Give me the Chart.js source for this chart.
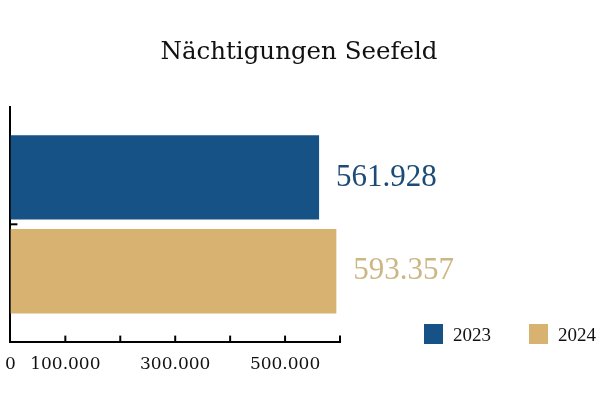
<!DOCTYPE html>
<html>
<head>
<meta charset="utf-8">
<script src="https://cdn.jsdelivr.net/npm/chart.js@4"></script>
<style>
  html, body { margin: 0; padding: 0; background: #fff; }
  #wrap { width: 609px; height: 406px; }
</style>
</head>
<body>
<div id="wrap"><canvas id="nights"></canvas></div>
<script>
const chartTitle = 'Nächtigungen Seefeld';
const categories = ['Nächtigungen'];
const years = ['2023', '2024'];
const nights = [561928, 593357];
const barColors = ['rgb(22, 82, 134)', 'rgb(216, 178, 112)'];
const labelColors = ['rgb(28, 76, 118)', 'rgb(204, 182, 132)'];
const shownTicks = [0, 100000, 300000, 500000];

const fmt = (v) => String(v).replace(/\B(?=(\d{3})+(?!\d))/g, '.');

// title over whole canvas, values next to bars, tick marks inside axes, legend
const extras = {
    id: 'extras',
    afterDraw(chart) {
        const ctx = chart.ctx;
        ctx.save();
        ctx.fillStyle = '#111';
        ctx.font = '24.5px "DejaVu Serif"';
        ctx.textAlign = 'center';
        ctx.textBaseline = 'middle';
        ctx.fillText(chartTitle, 299, 53);
        ctx.textAlign = 'left';

        ctx.font = '31px "Liberation Serif"';
        chart.data.datasets.forEach((ds, i) => {
            const el = chart.getDatasetMeta(i).data[0];
            ctx.fillStyle = labelColors[i];
            ctx.fillText(fmt(ds.data[0]), el.x + 17, el.y);
        });

        const x = chart.scales.x, y = chart.scales.y;
        ctx.strokeStyle = '#000';
        ctx.lineWidth = 2;
        x.ticks.forEach(t => {
            if (t.value === 0) return;
            const px = x.getPixelForValue(t.value);
            ctx.beginPath();
            ctx.moveTo(px, x.top - 6);
            ctx.lineTo(px, x.top + 1);
            ctx.stroke();
        });
        const py = y.getPixelForValue(0);
        ctx.beginPath();
        ctx.moveTo(y.right, py);
        ctx.lineTo(y.right + 7, py);
        ctx.stroke();

        ctx.font = '19px "Liberation Serif"';
        const legendX = [424, 529];
        chart.data.datasets.forEach((ds, i) => {
            ctx.fillStyle = ds.backgroundColor;
            ctx.fillRect(legendX[i], 324, 19, 20);
            ctx.fillStyle = '#111';
            ctx.fillText(ds.label, legendX[i] + 29, 336);
        });
        ctx.restore();
    }
};

new Chart(document.getElementById('nights'), {
    type: 'bar',
    data: {
        labels: categories,
        datasets: years.map((yr, i) => ({
            label: yr,
            data: [nights[i]],
            backgroundColor: barColors[i],
            borderWidth: 0
        }))
    },
    options: {
        indexAxis: 'y',
        responsive: true,
        maintainAspectRatio: false,
        animation: false,
        layout: { padding: { top: 107, left: 1, right: 269, bottom: 26 } },
        plugins: {
            legend: { display: false },
            tooltip: { enabled: false },
            title: { display: false }
        },
        scales: {
            x: {
                min: 0,
                max: 600000,
                ticks: {
                    stepSize: 100000,
                    autoSkip: false,
                    maxRotation: 0,
                    color: '#111',
                    padding: 5,
                    font: { family: 'DejaVu Serif', size: 17 },
                    callback: (v) => shownTicks.includes(v) ? fmt(v) : ''
                },
                grid: { display: false },
                border: { display: true, color: '#000', width: 2 }
            },
            y: {
                ticks: { display: false },
                grid: { display: false },
                border: { display: true, color: '#000', width: 2 }
            }
        }
    },
    plugins: [extras]
});
</script>
</body>
</html>
